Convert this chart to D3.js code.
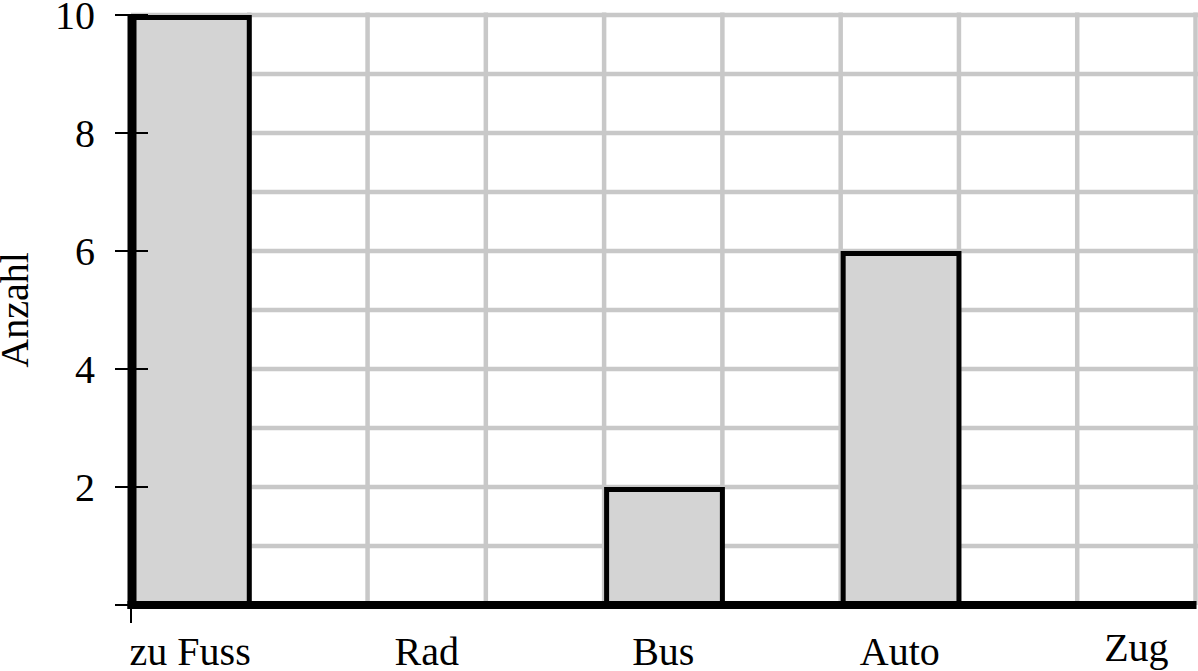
<!DOCTYPE html>
<html>
<head>
<meta charset="utf-8">
<script src="https://cdn.jsdelivr.net/npm/d3@7"></script>
<style>
  html, body { margin: 0; padding: 0; background: #fff; }
  svg { display: block; }
  text { font-family: "Liberation Serif", "Times New Roman", serif; fill: #000; }
</style>
</head>
<body>
<svg id="chart" width="1198" height="671"></svg>
<script>
// Data
const categories = ["zu Fuss", "Rad", "Bus", "Auto", "Zug"];
const values = [10, 0, 2, 6, 0];
const yTicks = [0, 2, 4, 6, 8, 10];
const yTickLabels = ["", "2", "4", "6", "8", "10"];
const yLabel = "Anzahl";

const svg = d3.select("#chart");
const x = d3.scaleLinear().domain([0, 9]).range([131, 1195.5]);
const y = d3.scaleLinear().domain([0, 10]).range([605, 15]);

// Grid
const grid = svg.append("g").attr("stroke", "#c8c8c8").attr("stroke-width", 4.5);
grid.selectAll("line.v").data(d3.range(1, 10)).join("line")
  .attr("x1", d => x(d)).attr("x2", d => x(d))
  .attr("y1", y(10) - 2.5).attr("y2", y(0));
grid.selectAll("line.h").data(d3.range(1, 11)).join("line")
  .attr("x1", x(0)).attr("x2", x(9) + 2.5)
  .attr("y1", d => y(d)).attr("y2", d => y(d));

// Bars
const bars = categories.map((c, i) => ({ c, v: values[i], i })).filter(d => d.v > 0);
svg.append("g").selectAll("rect").data(bars).join("rect")
  .attr("x", d => x(2 * d.i) + 2.5)
  .attr("width", d => x(2 * d.i + 1) - x(2 * d.i) - 2.5)
  .attr("y", d => y(d.v) + 2.5)
  .attr("height", d => y(0) - y(d.v) - 2.5)
  .attr("fill", "#d4d4d4")
  .attr("stroke", "#000")
  .attr("stroke-width", 5);

// Axes lines
svg.append("line").attr("x1", 132).attr("x2", 132).attr("y1", y(10) - 1).attr("y2", y(0) + 4)
  .attr("stroke", "#000").attr("stroke-width", 9);
svg.append("line").attr("x1", 127.5).attr("x2", x(9) + 1).attr("y1", y(0)).attr("y2", y(0))
  .attr("stroke", "#000").attr("stroke-width", 8);

// Y ticks
svg.append("g").selectAll("line").data(yTicks).join("line")
  .attr("x1", 115).attr("x2", 148)
  .attr("y1", d => y(d)).attr("y2", d => y(d))
  .attr("stroke", "#000").attr("stroke-width", 2);
svg.append("g").selectAll("text").data(yTicks).join("text")
  .attr("x", 95).attr("y", d => y(d) + 13.5)
  .attr("text-anchor", "end")
  .attr("font-size", 40)
  .text((d, i) => yTickLabels[i]);

// X tick
svg.append("line").attr("x1", x(0)).attr("x2", x(0)).attr("y1", y(0) + 4).attr("y2", y(0) + 18)
  .attr("stroke", "#000").attr("stroke-width", 2);

// X labels
svg.append("g").selectAll("text").data(categories).join("text")
  .attr("x", (d, i) => x(2 * i + 0.5))
  .attr("y", (d, i) => i === 4 ? 660.5 : 664.5)
  .attr("text-anchor", "middle")
  .attr("font-size", 40)
  .text(d => d);

// Y label
svg.append("text")
  .attr("transform", `translate(28, ${(y(0) + y(10)) / 2}) rotate(-90)`)
  .attr("text-anchor", "middle")
  .attr("font-size", 40)
  .text(yLabel);
</script>
</body>
</html>
